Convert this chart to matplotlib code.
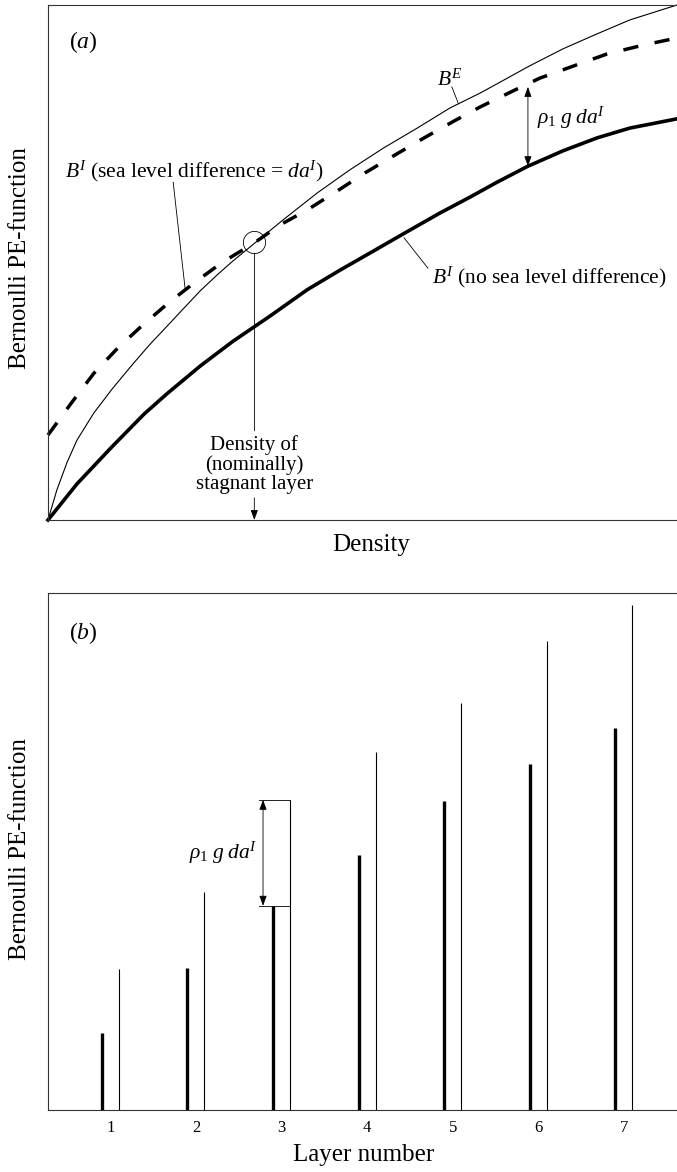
import numpy as np
import matplotlib
matplotlib.use("Agg")
import matplotlib.pyplot as plt

plt.rcParams['font.family'] = ['Liberation Serif', 'DejaVu Serif']
plt.rcParams['mathtext.fontset'] = 'custom'
plt.rcParams['mathtext.rm'] = 'Liberation Serif'
plt.rcParams['mathtext.it'] = 'Liberation Serif:italic'
plt.rcParams['mathtext.bf'] = 'Liberation Serif:bold'
plt.rcParams['lines.scale_dashes'] = False

## panel (a): curves (density and B both scaled to 0..1)
dens_E = [0.000, 0.014, 0.030, 0.046, 0.073, 0.103, 0.135, 0.162, 0.189, 0.215, 0.242,
          0.269, 0.294, 0.321, 0.374, 0.428, 0.480, 0.533, 0.587, 0.639, 0.687, 0.714,
          0.766, 0.819, 0.873, 0.925, 1.000]
B_E = [0.000, 0.058, 0.111, 0.155, 0.208, 0.256, 0.303, 0.341, 0.376, 0.410, 0.445,
       0.476, 0.503, 0.530, 0.583, 0.635, 0.680, 0.722, 0.761, 0.800, 0.829, 0.847,
       0.882, 0.915, 0.944, 0.971, 1.000]

dens_Id = [0.000, 0.037, 0.073, 0.111, 0.151, 0.191, 0.234, 0.278, 0.328, 0.366, 0.412,
           0.460, 0.504, 0.552, 0.598, 0.646, 0.687, 0.739, 0.782, 0.841, 0.889, 0.946, 1.000]
B_Id = [0.165, 0.227, 0.285, 0.334, 0.379, 0.421, 0.462, 0.501, 0.538, 0.571, 0.602,
        0.639, 0.674, 0.709, 0.742, 0.775, 0.802, 0.833, 0.858, 0.884, 0.905, 0.922, 0.936]

dens_I = [0.000, 0.046, 0.100, 0.153, 0.189, 0.242, 0.294, 0.353, 0.412, 0.464, 0.517,
          0.564, 0.623, 0.671, 0.714, 0.763, 0.819, 0.873, 0.925, 1.000]
B_I = [0.000, 0.070, 0.140, 0.206, 0.245, 0.299, 0.347, 0.396, 0.447, 0.485, 0.522,
       0.555, 0.596, 0.627, 0.656, 0.687, 0.717, 0.742, 0.761, 0.779]

stagnant_density = 0.328
stagnant_B = 0.540
arrow_density = 0.763
arrow_lo, arrow_hi = 0.687, 0.841

## panel (b): layer values
layers = np.arange(1, 8)
B_int = [0.149, 0.275, 0.395, 0.493, 0.598, 0.669, 0.739]
B_ext = [0.273, 0.422, 0.600, 0.692, 0.787, 0.907, 0.977]
offset = 0.1

fig = plt.figure(figsize=(6.77, 11.72), dpi=100)

def frame(ax):
    for s in ['top', 'left', 'bottom']:
        ax.spines[s].set_linewidth(0.8)
        ax.spines[s].set_color('#333333')
    ax.spines['right'].set_visible(False)

arrow_kw = dict(arrowstyle='<|-|>,head_length=0.6,head_width=0.22', lw=0.6,
                color='k', shrinkA=0, shrinkB=0, mutation_scale=10)

## (a)
axa = fig.add_axes([48/677, 1 - 520/1172, 629/677, 515/1172])
frame(axa)
axa.set_xlim(0, 1)
axa.set_ylim(0, 1)
axa.set_xticks([])
axa.set_yticks([])

axa.plot(dens_E, B_E, color='k', lw=0.8, solid_joinstyle='round', clip_on=False)
axa.plot(dens_Id, B_Id, color='k', lw=2.5, ls=(0, (11, 12)), dash_capstyle='butt', clip_on=False)
axa.plot(dens_I, B_I, color='k', lw=2.6, solid_joinstyle='round', clip_on=False)

axa.plot(stagnant_density, stagnant_B, 'o', ms=16, mfc='none', mec='k', mew=0.6)
axa.plot([stagnant_density, stagnant_density], [stagnant_B - 0.022, 0.175], color='k', lw=0.6)
axa.annotate('', xy=(stagnant_density, 0.0), xytext=(stagnant_density, 0.043),
             arrowprops=dict(arrow_kw, arrowstyle='-|>,head_length=0.6,head_width=0.22'))
axa.text(stagnant_density, 0.107, 'Density of\n(nominally)\nstagnant layer', ha='center',
         va='center', fontsize=15, linespacing=1.0)

axa.annotate('', xy=(arrow_density, arrow_hi), xytext=(arrow_density, arrow_lo), arrowprops=arrow_kw)
axa.text(0.777, 0.781, r'$\rho_1\;g\;da^I$', fontsize=15.5, ha='left', va='center')

axa.text(0.618, 0.854, r'$B^E$', fontsize=15.5, ha='left', va='center')
axa.plot([0.642, 0.652], [0.841, 0.810], color='k', lw=0.6)
axa.text(0.027, 0.676, r'$B^I$ (sea level difference = $da^I$)', fontsize=15.5, ha='left', va='center')
axa.plot([0.199, 0.218], [0.656, 0.449], color='k', lw=0.6)
axa.text(0.610, 0.472, r'$B^I$ (no sea level difference)', fontsize=15.5, ha='left', va='center')
axa.plot([0.566, 0.604], [0.548, 0.489], color='k', lw=0.6)
axa.text(0.033, 0.928, r'$(a)$', fontsize=17, ha='left', va='center')

fig.text(371/677, 1 - 545/1172, 'Density', fontsize=18, ha='center', va='center')
fig.text(20/677, 1 - 258/1172, 'Bernoulli PE-function', fontsize=18, rotation=90,
         ha='center', va='center')

## (b)
axb = fig.add_axes([48/677, 1 - 1110/1172, 629/677, 517/1172])
frame(axb)
axb.set_xlim(0.272, 7.62)
axb.set_ylim(0, 1)
axb.set_yticks([])
axb.set_xticks(layers)
axb.set_xticklabels([str(n) for n in layers])
axb.tick_params(axis='x', length=0, pad=7, labelsize=12)

axb.vlines(layers - offset, 0, B_int, color='k', lw=2.4)
axb.vlines(layers + offset, 0, B_ext, color='k', lw=0.8, clip_on=False)

x_br = 2.784
axb.annotate('', xy=(x_br, B_ext[2]), xytext=(x_br, B_int[2]), arrowprops=arrow_kw)
axb.plot([2.737, 3 + offset], [B_ext[2], B_ext[2]], color='k', lw=0.6)
axb.plot([2.737, 3 + offset], [B_int[2], B_int[2]], color='k', lw=0.6)
axb.text(2.713, 0.497, r'$\rho_1\;g\;da^I$', fontsize=15.5, ha='right', va='center')
axb.text(0.517, 0.923, r'$(b)$', fontsize=17, ha='left', va='center')

fig.text(364/677, 1 - 1155/1172, 'Layer number', fontsize=18, ha='center', va='center')
fig.text(20/677, 1 - 849/1172, 'Bernoulli PE-function', fontsize=18, rotation=90,
         ha='center', va='center')

fig.savefig('out.png', dpi=100)
